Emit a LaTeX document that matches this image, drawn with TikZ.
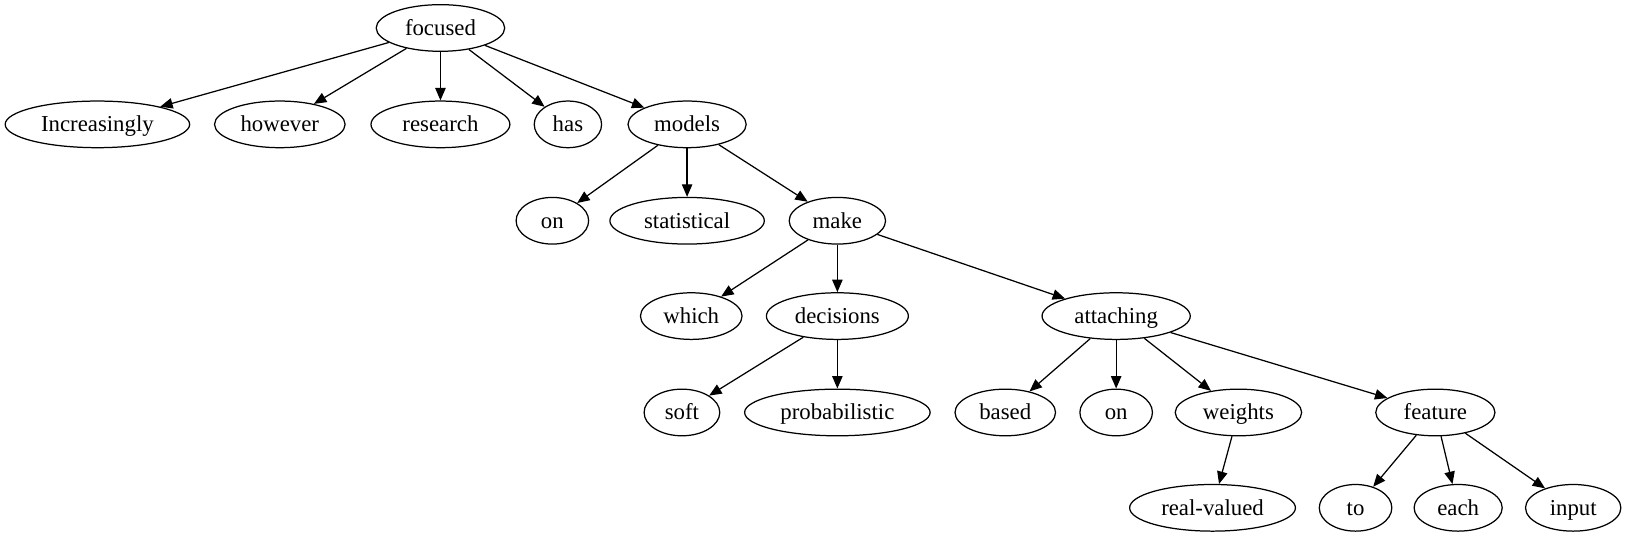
\documentclass[tikz,border=0pt]{standalone}
\usepackage{fontspec}
\setmainfont{Liberation Serif}
\usetikzlibrary{shapes.geometric,arrows.meta}

\begin{document}
\begin{tikzpicture}[x=1pt,y=-1pt,
  word/.style={ellipse,draw,line width=1.2pt,inner sep=0pt,minimum height=45pt,
    text height=17pt,text depth=3pt,font=\fontsize{22}{26}\selectfont},
  edge/.style={line width=1.2pt,-{Triangle[length=12pt,width=10pt]}}]
\useasboundingbox (0,0) rectangle (1568,520);

\node[word,minimum width=124pt] (focused) at (425,27) {focused};

\node[word,minimum width=178pt] (increasingly) at (94,120) {Increasingly};
\node[word,minimum width=126pt] (however) at (270,120) {however};
\node[word,minimum width=134pt] (research) at (425,120) {research};
\node[word,minimum width=65pt] (has) at (548,120) {has};
\node[word,minimum width=114pt] (models) at (663,120) {models};

\node[word,minimum width=70pt] (on1) at (533,213) {on};
\node[word,minimum width=149pt] (statistical) at (663,213) {statistical};
\node[word,minimum width=93pt] (make) at (808,213) {make};

\node[word,minimum width=98pt] (which) at (667,305) {which};
\node[word,minimum width=137pt] (decisions) at (808,305) {decisions};
\node[word,minimum width=143pt] (attaching) at (1077,305) {attaching};

\node[word,minimum width=73pt] (soft) at (658,398) {soft};
\node[word,minimum width=179pt] (probabilistic) at (808,398) {probabilistic};
\node[word,minimum width=97pt] (based) at (970,398) {based};
\node[word,minimum width=70pt] (on2) at (1077,398) {on};
\node[word,minimum width=122pt] (weights) at (1195,398) {weights};
\node[word,minimum width=115pt] (feature) at (1385,398) {feature};

\node[word,minimum width=160pt] (realvalued) at (1170,490) {real-valued};
\node[word,minimum width=70pt] (to) at (1308,490) {to};
\node[word,minimum width=85pt] (each) at (1407,490) {each};
\node[word,minimum width=92pt] (input) at (1518,490) {input};

\draw[edge] (focused) -- (increasingly);
\draw[edge] (focused) -- (however);
\draw[edge] (focused) -- (research);
\draw[edge] (focused) -- (has);
\draw[edge] (focused) -- (models);
\draw[edge] (models) -- (on1);
\draw[edge] (models) -- (statistical);
\draw[edge] (models) -- (make);
\draw[edge] (make) -- (which);
\draw[edge] (make) -- (decisions);
\draw[edge] (make) -- (attaching);
\draw[edge] (decisions) -- (soft);
\draw[edge] (decisions) -- (probabilistic);
\draw[edge] (attaching) -- (based);
\draw[edge] (attaching) -- (on2);
\draw[edge] (attaching) -- (weights);
\draw[edge] (attaching) -- (feature);
\draw[edge] (weights) -- (realvalued);
\draw[edge] (feature) -- (to);
\draw[edge] (feature) -- (each);
\draw[edge] (feature) -- (input);
\end{tikzpicture}
\end{document}
